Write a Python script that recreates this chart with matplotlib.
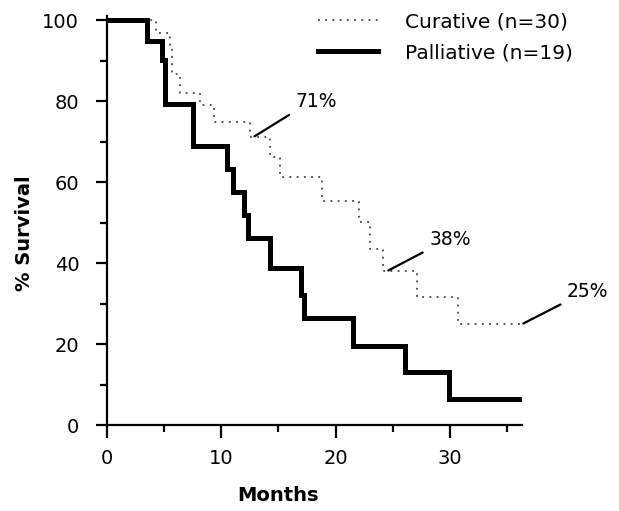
import matplotlib
matplotlib.use('Agg')
import matplotlib.pyplot as plt
import numpy as np

# Kaplan-Meier curves (months, % survival)
curative_months = [0, 4.3, 5.5, 5.7, 6.4, 8.1, 9.4, 12.5, 14.3, 15.1, 18.8, 22.0, 23.0, 24.1, 27.1, 30.7, 36.3]
curative_surv = [100, 96.7, 93.3, 86.7, 82.0, 79.0, 74.8, 71.1, 66.3, 61.2, 55.3, 50.1, 43.5, 38.0, 31.6, 24.9, 24.9]

palliative_months = [0, 3.5, 4.8, 5.1, 7.5, 10.5, 11.0, 12.0, 12.3, 14.3, 17.0, 17.2, 21.5, 26.1, 29.9, 36.1]
palliative_surv = [100, 94.8, 90.1, 79.3, 69.0, 63.2, 57.5, 51.8, 46.2, 38.8, 32.1, 26.4, 19.5, 13.1, 6.4, 6.4]

# callouts on the curative curve
annot_labels = ['71%', '38%', '25%']
annot_months = [12.8, 24.5, 36.3]
annot_surv = [71.1, 38.0, 24.9]
annot_offsets = [(42, 30), (42, 26), (45, 27)]   # pixels, text from point

fig = plt.figure(figsize=(6.19, 5.11), dpi=100)
ax = fig.add_axes([107/619, 1 - 425/511, 415/619, 409/511])

ax.step(curative_months, curative_surv, where='post', color='#444444',
        lw=1.3, linestyle=(0, (1, 3)), label='Curative (n=30)')
ax.step(palliative_months, palliative_surv, where='post', color='black',
        lw=3.6, label='Palliative (n=19)', solid_joinstyle='miter')

for lab, m, s, off in zip(annot_labels, annot_months, annot_surv, annot_offsets):
    ax.annotate(lab, xy=(m, s), xytext=off, textcoords='offset pixels',
                ha='left', va='baseline', fontsize=13.5, annotation_clip=False,
                arrowprops=dict(arrowstyle='-', lw=1.6, color='black',
                                relpos=(0, 0), shrinkA=3, shrinkB=1))

ax.set_xlim(0, 36.3)
ax.set_ylim(0, 101)
for sp in ['top', 'right']:
    ax.spines[sp].set_visible(False)
for sp in ['left', 'bottom']:
    ax.spines[sp].set_linewidth(1.6)

ax.set_xticks([0, 10, 20, 30])
ax.set_xticks([5, 15, 25, 35], minor=True)
ax.set_yticks([0, 20, 40, 60, 80, 100])
ax.set_yticks([10, 30, 50, 70, 90], minor=True)
ax.tick_params(axis='x', which='major', length=9, width=1.6, pad=8, labelsize=14)
ax.tick_params(axis='x', which='minor', length=5, width=1.6)
ax.tick_params(axis='y', which='major', length=8, width=1.6, pad=12, labelsize=14)
ax.tick_params(axis='y', which='minor', length=5, width=1.6)

ax.set_xlabel('Months', fontsize=14, fontweight='bold')
ax.xaxis.set_label_coords((278 - 107) / 415, (425 - 486) / 409)
ax.set_ylabel('% Survival', fontsize=14, fontweight='bold')
ax.yaxis.set_label_coords((34 - 107) / 415, (425 - 233) / 409)

leg = ax.legend(loc='upper left', bbox_to_anchor=(318/619, 1 - 12/511),
                bbox_transform=fig.transFigure, frameon=False, fontsize=14.5,
                handlelength=3.0, handletextpad=1.3, labelspacing=0.6,
                borderpad=0, borderaxespad=0)

fig.savefig('out.png', dpi=100)
